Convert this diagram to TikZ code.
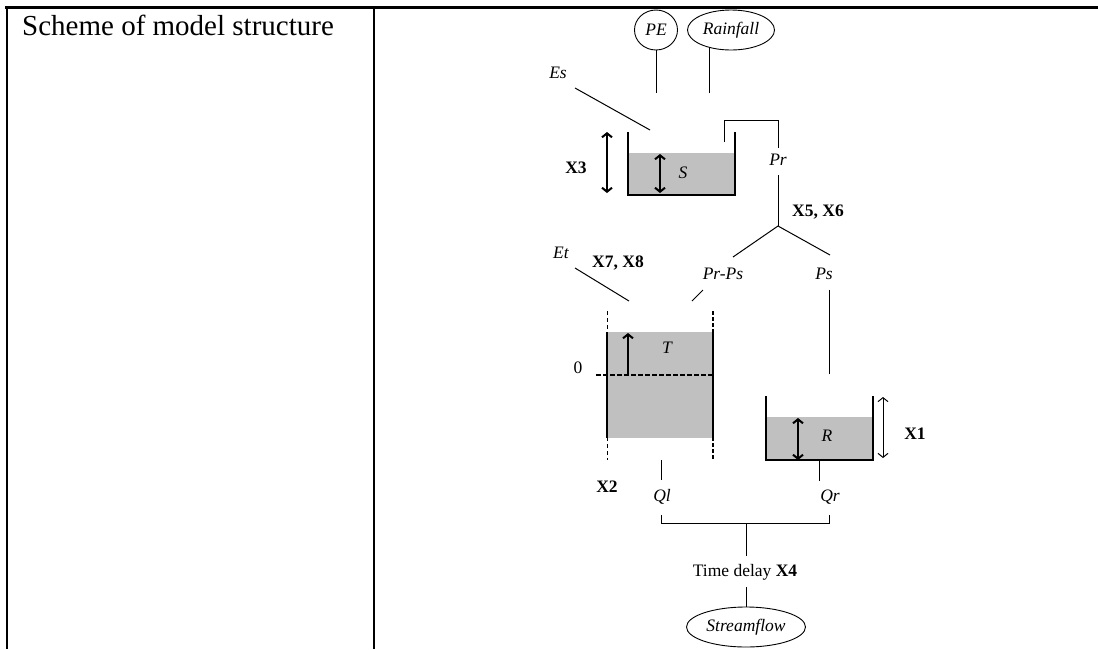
\documentclass[tikz,border=0pt]{standalone}
\usepackage{fontspec}
\setmainfont{Liberation Serif}
\usepackage{tikz}
\usetikzlibrary{arrows.meta,positioning,shapes.geometric}
\definecolor{TankGray}{RGB}{192,192,192}

\begin{document}
\begin{tikzpicture}[x=1pt,y=-1pt,
  lbl/.style={font=\fontsize{17.5}{20}\selectfont\itshape,inner sep=0pt},
  par/.style={font=\fontsize{17.5}{20}\selectfont\bfseries,inner sep=0pt},
  cloud/.style={draw,ellipse,inner sep=0pt,line width=0.9pt,font=\fontsize{17.5}{20}\selectfont\itshape},
  pipe/.style={line width=1pt},
  wall/.style={line width=1.3pt},
  dblarrow/.style={{Straight Barb[length=4pt,width=10pt]}-{Straight Barb[length=4pt,width=10pt]},line width=2pt}]
\useasboundingbox (0,0) rectangle (1098,649);
% table frame
\draw[line width=3pt] (5,7) -- (1098,7);
\draw[line width=2.3pt] (7,7) -- (7,649);
\draw[line width=2.3pt] (374,7) -- (374,649);
\node[anchor=base west,inner sep=0pt,font=\fontsize{29}{34}\selectfont] (title) at (22,35) {Scheme of model structure};
% inputs
\node[cloud,minimum width=43pt,minimum height=40pt] (pe) at (656,30) {PE};
\node[cloud,minimum width=87pt,minimum height=40pt] (rain) at (731,30) {Rainfall};
\coordinate (peEnd) at (656,93);
\coordinate (rainEnd) at (709,93);
\draw[pipe] (pe.south) -- (peEnd);
\draw[pipe] (rainEnd) -- (rainEnd |- rain.218);
\node[lbl] (es) at (558,73) {Es};
\coordinate (esA) at (575,88);
\coordinate (esB) at (650,130);
\draw[pipe] (esA) -- (esB);
% store S
\fill[TankGray] (628,153) rectangle (735,195);
\draw[wall] (628,132) -- (628,195) -- (735,195) -- (735,132);
\draw[dblarrow] (607,132) -- (607,193);
\draw[dblarrow] (660,154) -- (660,193);
\node[par] (x3) at (576,168) {X3};
\node[lbl] (s) at (683,173) {S};
% Pr and split
\coordinate (sOut) at (724,142);
\coordinate (prTop) at (778,148);
\coordinate (prBot) at (778,175);
\coordinate (split) at (778,226);
\node[lbl] (pr) at (778,160) {Pr};
\draw[pipe] (sOut) |- (prTop |- 0,120) -- (prTop);
\draw[pipe] (prBot) -- (split);
\node[par] (x56) at (818,212) {X5, X6};
\coordinate (brL) at (733,257);
\coordinate (brR) at (830,255);
\draw[pipe] (brL) -- (split) -- (brR);
\node[lbl] (prps) at (723,274) {Pr-Ps};
\node[lbl] (ps) at (824,274) {Ps};
\coordinate (prpsA) at (703,290);
\coordinate (prpsB) at (692,301);
\draw[pipe] (prpsA) -- (prpsB);
\coordinate (psA) at (829,290);
\coordinate (psB) at (829,374);
\draw[pipe] (psA) -- (psB);
% store T
\node[lbl] (et) at (561,253) {Et};
\node[par] (x78) at (618,263) {X7, X8};
\coordinate (etA) at (575,268);
\coordinate (etB) at (629,301);
\draw[pipe] (etA) -- (etB);
\fill[TankGray] (607,332) rectangle (713,438);
\draw[line width=1pt,dash pattern=on 4pt off 3pt] (607,311) -- (607,460);
\draw[line width=2pt,dash pattern=on 4pt off 2pt] (713,311) -- (713,460);
\draw[wall] (607,332) -- (607,438);
\draw[line width=1.8pt] (713,332) -- (713,438);
\draw[line width=1.6pt,dash pattern=on 5pt off 2pt] (596,375) -- (713,375);
\draw[line width=2pt,-{Straight Barb[length=4pt,width=10pt]}] (628,375) -- (628,333);
\node[inner sep=0pt,font=\fontsize{17.5}{20}\selectfont] (zero) at (578,368) {0};
\node[lbl] (t) at (667,348) {T};
\node[par] (x2) at (607,487) {X2};
% store R
\fill[TankGray] (766,417) rectangle (873,460);
\draw[wall] (766,396) -- (766,460) -- (873,460) -- (873,396);
\draw[dblarrow] (798,418) -- (798,460);
\draw[{Straight Barb[length=4pt,width=10pt]}-{Straight Barb[length=4pt,width=10pt]},line width=1pt] (883,397) -- (883,458);
\node[lbl] (r) at (827,436) {R};
\node[par] (x1) at (915,434) {X1};
% outflows
\coordinate (qlA) at (661,460);
\coordinate (qlB) at (661,480);
\coordinate (qrA) at (819,460);
\coordinate (qrB) at (819,481);
\draw[pipe] (qlA) -- (qlB);
\draw[pipe] (qrA) -- (qrB);
\node[lbl] (ql) at (662,497) {Ql};
\node[lbl] (qr) at (830,497) {Qr};
\coordinate (jL) at (661,515);
\coordinate (jR) at (829,515);
\coordinate (jM) at (746,523);
\draw[pipe] (jL) |- (jM) -| (jR);
\node[inner sep=0pt,font=\fontsize{17.5}{20}\selectfont] (delay) at (745,572) {Time delay \textbf{X4}};
\draw[pipe] (jM) -- (jM |- 0,556);
\node[cloud,minimum width=119pt,minimum height=40pt] (flow) at (746,627) {Streamflow};
\draw[pipe] (jM |- 0,587) -- (flow.north);
\end{tikzpicture}
\end{document}
